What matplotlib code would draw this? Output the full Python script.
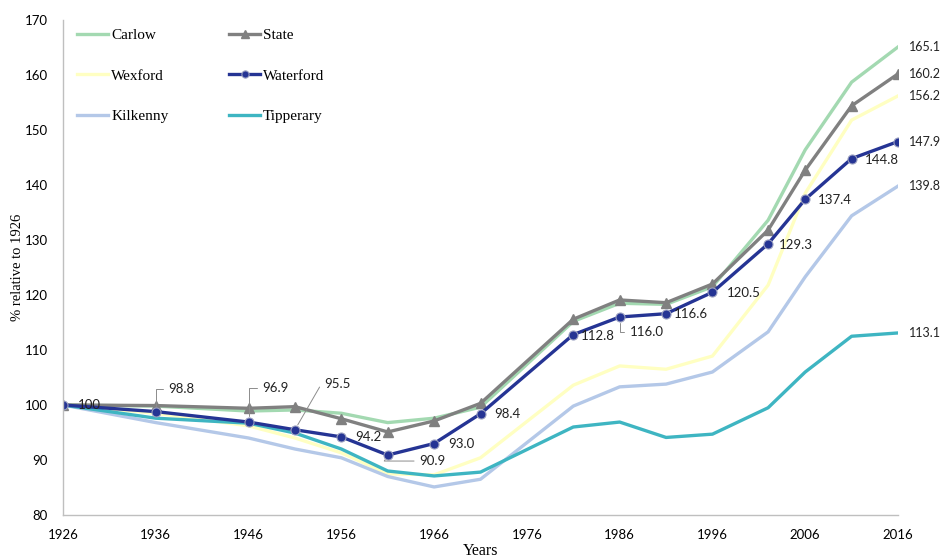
import matplotlib
matplotlib.use("Agg")
import matplotlib.pyplot as plt

years = [1926, 1936, 1946, 1951, 1956, 1961, 1966, 1971, 1981, 1986, 1991, 1996, 2002, 2006, 2011, 2016]

carlow    = [100, 99.8, 98.9, 99.1, 98.5, 96.8, 97.6, 99.6, 115.2, 118.5, 118.3, 121.5, 133.6, 146.4, 158.7, 165.1]
state     = [100, 99.9, 99.4, 99.7, 97.5, 95.1, 97.1, 100.3, 115.6, 119.1, 118.6, 122.0, 131.8, 142.7, 154.4, 160.2]
wexford   = [100, 98.5, 96.2, 94.0, 91.3, 87.5, 87.3, 90.4, 103.6, 107.1, 106.5, 108.9, 121.8, 138.5, 151.8, 156.2]
waterford = [100, 98.8, 96.9, 95.5, 94.2, 90.9, 93.0, 98.4, 112.8, 116.0, 116.6, 120.5, 129.3, 137.4, 144.8, 147.9]
kilkenny  = [100, 96.8, 94.0, 92.0, 90.4, 87.0, 85.1, 86.5, 99.8, 103.3, 103.8, 106.0, 113.3, 123.3, 134.4, 139.8]
tipperary = [100, 97.6, 96.7, 94.9, 92.0, 88.0, 87.1, 87.8, 96.0, 96.9, 94.1, 94.7, 99.5, 106.0, 112.5, 113.1]

waterford_labels = ["100", "98.8", "96.9", "95.5", "94.2", "90.9", "93.0", "98.4", "112.8",
                    "116.0", "116.6", "120.5", "129.3", "137.4", "144.8", "147.9"]

xticks = list(range(1926, 2017, 10))
yticks = list(range(80, 171, 10))

num_font = "Lato"
txt_font = "Liberation Serif"

fig = plt.figure(figsize=(9.4, 5.58), dpi=100)
ax = fig.add_axes([63 / 940, 1 - 515 / 558, 835 / 940, 495 / 558])

lw = 2.4
l_carlow, = ax.plot(years, carlow, color="#A3D9B1", lw=lw, label="Carlow")
l_wexford, = ax.plot(years, wexford, color="#FFFFC2", lw=lw, label="Wexford")
l_kilk, = ax.plot(years, kilkenny, color="#B4C8E8", lw=lw, label="Kilkenny")
l_tipp, = ax.plot(years, tipperary, color="#3EB5C2", lw=lw, label="Tipperary")
l_state, = ax.plot(years, state, color="#808080", lw=lw, marker="^", ms=7.5, label="State")
l_wat, = ax.plot(years, waterford, color="#253494", lw=lw, marker="o", ms=6.5,
                 mec="#9a9fc0", mew=0.8, label="Waterford")

ax.set_xlim(1926, 2016)
ax.set_ylim(80, 170)
ax.set_xticks(xticks)
ax.set_yticks(yticks)
ax.tick_params(length=0, labelsize=9.5)
ax.tick_params(axis="y", pad=11)
ax.tick_params(axis="x", pad=10)
for lab in ax.get_xticklabels() + ax.get_yticklabels():
    lab.set_fontfamily(num_font)
for s in ["top", "right"]:
    ax.spines[s].set_visible(False)
for s in ["left", "bottom"]:
    ax.spines[s].set_color("#BFBFBF")
    ax.spines[s].set_linewidth(1)

ax.set_ylabel("% relative to 1926", fontfamily=txt_font, fontsize=10.5)
ax.set_xlabel("Years", fontfamily=txt_font, fontsize=11.5)
ax.yaxis.set_label_coords(-39 / 835, 0.5)
ax.xaxis.set_label_coords(0.5, -28 / 495)

# waterford data labels: (dx, dy) in pixels, connector style
offsets = [(26, 0, None), (26, 23, "a"), (27, 34, "a"), (42, 46, "s"), (27, 0, None),
           (45, -6, "s"), (27, 0, None), (27, 0, None), (25, -1, None), (27, -15, "a"),
           (25, 0, None), (31, -1, None), (28, -1, None), (30, -1, None), (30, -1, None)]
for x, y, lab, (dx, dy, con) in zip(years[:-1], waterford[:-1], waterford_labels[:-1], offsets):
    kw = {}
    if con == "a":
        kw["arrowprops"] = dict(arrowstyle="-", color="#8c8c8c", lw=0.7, relpos=(0, 0.5),
                                shrinkA=2, shrinkB=4,
                                connectionstyle="angle,angleA=0,angleB=90,rad=0")
    elif con == "s":
        kw["arrowprops"] = dict(arrowstyle="-", color="#8c8c8c", lw=0.7, relpos=(0, 0.5),
                                shrinkA=2, shrinkB=4,
                                connectionstyle="angle,angleA=0,angleB=60,rad=0")
    ax.annotate(lab, (x, y), xytext=(dx, dy), textcoords="offset pixels",
                ha="center", va="center", fontsize=9.5, fontfamily=num_font,
                color="#222222", annotation_clip=False, **kw)

# end labels at the right edge
for vals, lab in [(carlow, None), (state, None), (wexford, None),
                  (waterford, waterford_labels[-1]), (kilkenny, None), (tipperary, None)]:
    ax.annotate(lab or f"{vals[-1]:.1f}", (years[-1], vals[-1]), xytext=(11, 0),
                textcoords="offset pixels", ha="left", va="center", fontsize=9.0,
                fontfamily=num_font, color="#222222", annotation_clip=False)

handles = [l_carlow, l_wexford, l_kilk, l_state, l_wat, l_tipp]
leg = ax.legend(handles=handles, labels=[h.get_label() for h in handles], ncol=2,
                loc="upper left", bbox_to_anchor=(0.01, 0.995), frameon=False,
                prop={"family": txt_font, "size": 11}, handlelength=2.0,
                handletextpad=0.2, columnspacing=4.0, labelspacing=1.75,
                borderaxespad=0, markerscale=0.8)

fig.savefig("out.png", dpi=100)
